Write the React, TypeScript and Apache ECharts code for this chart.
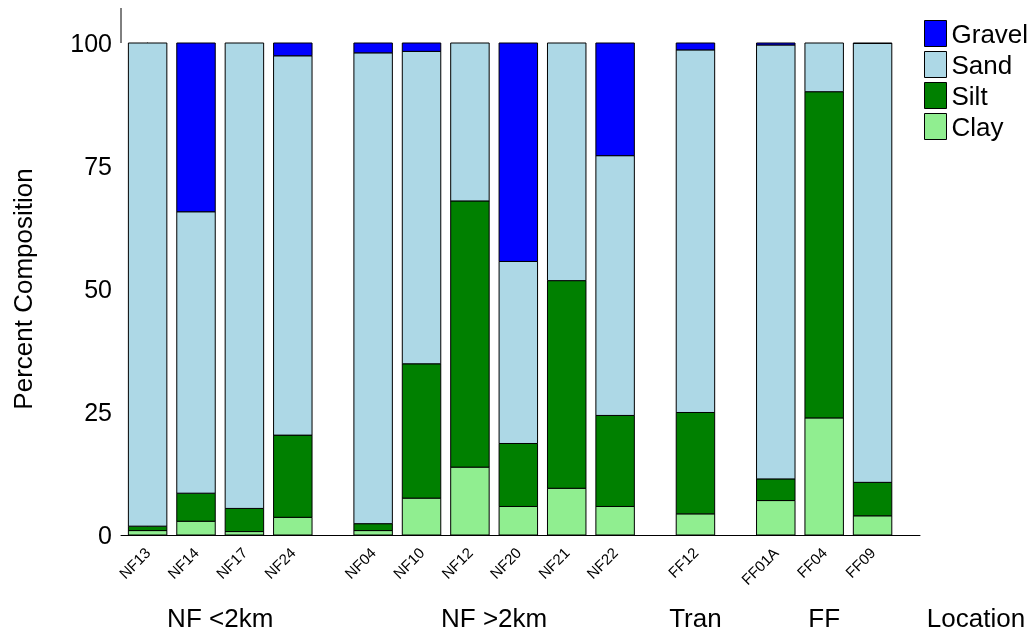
import React, { useEffect, useRef } from "react";
import * as echarts from "echarts";

const categories = ["NF13", "NF14", "NF17", "NF24", "NF04", "NF10", "NF12", "NF20", "NF21", "NF22", "FF12", "FF01A", "FF04", "FF09"];
const groupIndex = [0, 0, 0, 0, 1, 1, 1, 1, 1, 1, 2, 3, 3, 3];
const groupNames = ["NF <2km", "NF >2km", "Tran", "FF"];
const clay = [0.9, 2.8, 0.7, 3.6, 0.9, 7.5, 13.8, 5.8, 9.5, 5.8, 4.3, 7.0, 23.8, 3.9];
const silt = [0.9, 5.7, 4.7, 16.7, 1.4, 27.3, 54.1, 12.8, 42.2, 18.5, 20.6, 4.4, 66.3, 6.8];
const sand = [98.2, 57.2, 94.6, 77.1, 95.7, 63.5, 32.1, 37.0, 48.3, 52.8, 73.7, 88.2, 9.9, 89.2];
const gravel = [0, 34.3, 0, 2.6, 2.0, 1.7, 0, 44.4, 0, 22.9, 1.4, 0.4, 0, 0.1];

const GROUP_GAP = 0.66;
const BAR_WIDTH = 0.795;
const FONT = "'Liberation Sans', Arial, sans-serif";

const seriesDefs = [
  { name: "Clay", values: clay, color: "#90EE90" },
  { name: "Silt", values: silt, color: "#008000" },
  { name: "Sand", values: sand, color: "#ADD8E6" },
  { name: "Gravel", values: gravel, color: "#0000FF" },
];

export default function App() {
  const ref = useRef<HTMLDivElement>(null);

  useEffect(() => {
    if (!ref.current) return;
    const chart = echarts.init(ref.current, null, { renderer: "svg" });
    const positions = categories.map((_, i) => i + groupIndex[i] * GROUP_GAP);

    const cumulative = categories.map(() => 0);
    const series = seriesDefs.map((def) => {
      const data = categories.map((_, i) => {
        const bottom = cumulative[i];
        const top = bottom + def.values[i];
        cumulative[i] = top;
        return [positions[i], bottom, top];
      });
      return {
        type: "custom",
        name: def.name,
        data,
        encode: { x: 0, y: [1, 2] },
        itemStyle: { color: def.color, borderColor: "#000", borderWidth: 1 },
        renderItem: (params: any, api: any) => {
          const x = api.value(0);
          const y0 = api.value(1);
          const y1 = api.value(2);
          if (y1 - y0 <= 0) return null;
          const pTop = api.coord([x, y1]);
          const pBot = api.coord([x, y0]);
          const w = api.size([BAR_WIDTH, 0])[0];
          return {
            type: "rect",
            shape: { x: pTop[0] - w / 2, y: pTop[1], width: w, height: pBot[1] - pTop[1] },
            style: { fill: def.color, stroke: "#000", lineWidth: 1 },
          };
        },
      };
    });

    chart.setOption({
      animation: false,
      textStyle: { fontFamily: FONT, color: "#000" },
      grid: { left: 121, right: 113, top: 43, bottom: 99, containLabel: false },
      legend: {
        orient: "vertical",
        left: 924,
        top: 20,
        padding: 0,
        itemWidth: 22,
        itemHeight: 26,
        itemGap: 4,
        icon: "rect",
        data: ["Gravel", "Sand", "Silt", "Clay"],
        itemStyle: { borderColor: "#000", borderWidth: 1 },
        textStyle: { fontSize: 26, color: "#000", fontFamily: FONT },
      },
      xAxis: {
        type: "value",
        min: -0.55,
        max: 15.96,
        splitLine: { show: false },
        axisTick: { show: false },
        axisLine: { show: true, onZero: false, lineStyle: { color: "#000", width: 1 } },
        axisLabel: {
          customValues: positions,
          rotate: 45,
          fontSize: 15,
          color: "#000",
          margin: 15,
          fontFamily: FONT,
          formatter: (v: number) => {
            const idx = positions.findIndex((p) => Math.abs(p - v) < 1e-6);
            return idx >= 0 ? categories[idx] : "";
          },
        },
      },
      yAxis: {
        type: "value",
        min: 0,
        max: 100,
        interval: 25,
        splitLine: { show: false },
        axisLine: { show: true, lineStyle: { color: "#000", width: 1 } },
        axisTick: { show: true, length: 4, lineStyle: { color: "#000", width: 1 } },
        minorTick: { show: true, splitNumber: 10, length: 2, lineStyle: { color: "#000", width: 1 } },
        axisLabel: {
          fontSize: 25,
          color: "#000",
          margin: 9,
          fontFamily: FONT,
        },
      },
      series,
    });

    const groupCenters = groupNames.map((_, g) => {
      const ps = positions.filter((_, i) => groupIndex[i] === g);
      return (ps[0] + ps[ps.length - 1]) / 2;
    });
    const top100 = chart.convertToPixel({ yAxisIndex: 0 }, 100) as number;
    const zeroY = chart.convertToPixel({ yAxisIndex: 0 }, 0) as number;
    const axisX = chart.convertToPixel({ xAxisIndex: 0 }, -0.55) as number;

    const graphics: any[] = groupNames.map((name, g) => ({
      type: "text",
      x: chart.convertToPixel({ xAxisIndex: 0 }, groupCenters[g]) as number,
      y: 618,
      style: { text: name, fontSize: 26, fontFamily: FONT, fill: "#000", align: "center", verticalAlign: "middle" },
    }));
    graphics.push({
      type: "text",
      x: 976,
      y: 618,
      style: { text: "Location", fontSize: 26, fontFamily: FONT, fill: "#000", align: "center", verticalAlign: "middle" },
    });
    graphics.push({
      type: "text",
      x: 23,
      y: (top100 + zeroY) / 2,
      rotation: Math.PI / 2,
      style: { text: "Percent Composition", fontSize: 26, fontFamily: FONT, fill: "#000", align: "center", verticalAlign: "middle" },
    });
    graphics.push({
      type: "line",
      shape: { x1: axisX, y1: 8, x2: axisX, y2: top100 },
      style: { stroke: "#000", lineWidth: 1 },
    });
    chart.setOption({ graphic: graphics });

    return () => chart.dispose();
  }, []);

  return <div ref={ref} style={{ position: "fixed", left: 0, top: 0, width: 1033, height: 634 }} />;
}
